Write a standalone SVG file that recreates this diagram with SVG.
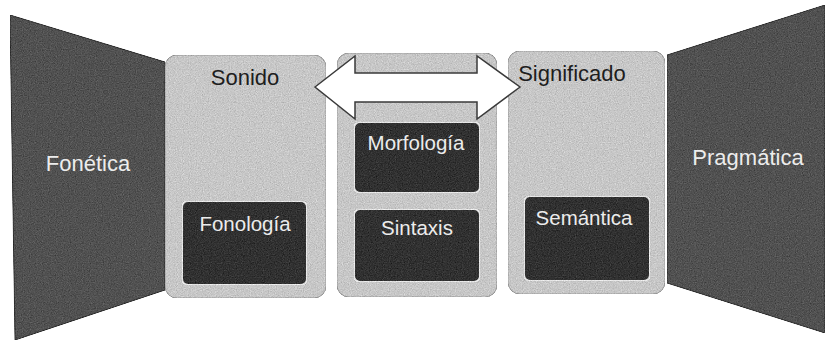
<svg xmlns="http://www.w3.org/2000/svg" width="825" height="342" viewBox="0 0 825 342">
<defs>
<filter id="grain" x="0" y="0" width="100%" height="100%" color-interpolation-filters="sRGB">
<feTurbulence type="fractalNoise" baseFrequency="0.85" numOctaves="2" seed="7" result="n"/>
<feColorMatrix in="n" type="matrix" values="0.33 0.33 0.33 0 0  0.33 0.33 0.33 0 0  0.33 0.33 0.33 0 0  0 0 0 0 1" result="g"/>
<feComposite in="SourceGraphic" in2="g" operator="arithmetic" k1="0" k2="1" k3="0.45" k4="-0.22" result="m"/>
<feComposite in="m" in2="SourceGraphic" operator="in"/>
</filter>
<style>
.side{fill:#505050;stroke:#2a2a2a;stroke-width:1;filter:url(#grain)}
.outer{fill:#c6c6c6;stroke:#9a9a9a;stroke-width:1;filter:url(#grain)}
.inner{fill:#303030;stroke:#e6e6e6;stroke-width:2;filter:url(#grain)}
.lbl{font-family:"Liberation Sans",Arial,sans-serif;font-size:22px;text-anchor:middle}
.in{font-size:20.5px}
.dark{fill:#1e1e1e}
.light{fill:#ececec}
.arrow{fill:#ffffff;stroke:#3a3a3a;stroke-width:1.5;stroke-linejoin:miter}
</style>
</defs>
<rect width="825" height="342" fill="#ffffff"/>

<g id="fonetica">
<polygon class="side" points="10,15 165,62 165,290 15,340"/>
<text class="lbl light" x="88" y="171">Fonética</text>
</g>

<g id="pragmatica">
<polygon class="side" points="667,55 825,5 825,333 667,283"/>
<text class="lbl light" x="748" y="165">Pragmática</text>
</g>

<g id="sonido">
<rect class="outer" x="165" y="55" width="161" height="243" rx="12"/>
<text class="lbl dark" x="245" y="85">Sonido</text>
</g>

<g id="centro">
<rect class="outer" x="337" y="53" width="160" height="244" rx="12"/>
</g>

<g id="significado">
<rect class="outer" x="508" y="51" width="157" height="243" rx="12"/>
<text class="lbl dark" x="572" y="81">Significado</text>
</g>

<g id="fonologia">
<rect class="inner" x="182" y="201" width="125" height="84" rx="6"/>
<text class="lbl light in" x="245" y="231">Fonología</text>
</g>

<g id="morfologia">
<rect class="inner" x="354" y="122" width="126" height="71" rx="6"/>
<text class="lbl light in" x="416" y="150">Morfología</text>
</g>

<g id="sintaxis">
<rect class="inner" x="354" y="209" width="126" height="73" rx="6"/>
<text class="lbl light in" x="417" y="235">Sintaxis</text>
</g>

<g id="semantica">
<rect class="inner" x="524" y="196" width="126" height="85" rx="6"/>
<text class="lbl light in" x="584" y="225">Semántica</text>
</g>

<g id="connectors">
<polygon class="arrow" points="315,87 355,56 355,73 477,73 477,56 520,87 477,119 477,102 355,102 355,119"/>
</g>
</svg>
